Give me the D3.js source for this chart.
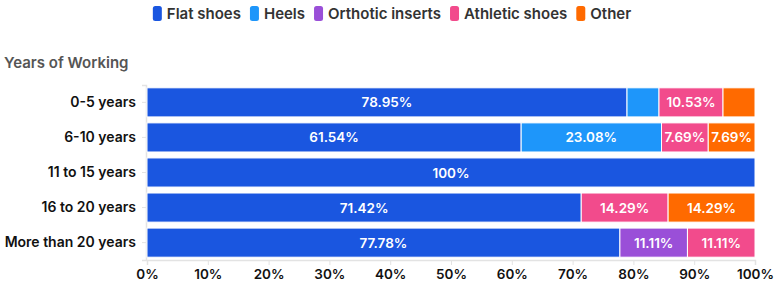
<!DOCTYPE html>
<html>
<head>
<meta charset="utf-8">
<script src="https://cdn.jsdelivr.net/npm/d3@7"></script>
<style>
  body { margin: 0; background: #fff; }
  text { font-family: Inter, "Open Sans", sans-serif; }
</style>
</head>
<body>
<svg id="chart" width="776" height="286"></svg>
<script>
const categories = ["0-5 years", "6-10 years", "11 to 15 years", "16 to 20 years", "More than 20 years"];
const seriesNames = ["Flat shoes", "Heels", "Orthotic inserts", "Athletic shoes", "Other"];
const colors = ["#1a56e0", "#1e96fa", "#9a4fd8", "#f24b8c", "#ff6a00"];
const flatShoes = [78.95, 61.54, 100, 71.42, 77.78];
const heels = [5.26, 23.08, 0, 0, 0];
const orthotic = [0, 0, 0, 0, 11.11];
const athletic = [10.53, 7.69, 0, 14.29, 11.11];
const other = [5.26, 7.69, 0, 14.29, 0];
const xTicks = [0, 10, 20, 30, 40, 50, 60, 70, 80, 90, 100];

const svg = d3.select("#chart");
const margin = {left: 147, right: 21, top: 85, bottom: 26};
const width = 776, height = 286;

const rows = categories.map((c, i) => {
  const r = {cat: c};
  [flatShoes, heels, orthotic, athletic, other].forEach((arr, k) => r[seriesNames[k]] = arr[i]);
  return r;
});
const stacked = d3.stack().keys(seriesNames)(rows);

const x = d3.scaleLinear().domain([0, 100]).range([margin.left, width - margin.right]);
const y = d3.scaleBand().domain(categories).range([margin.top, height - margin.bottom])
  .paddingInner(0.17).paddingOuter(0.08);
const color = d3.scaleOrdinal().domain(seriesNames).range(colors);

// x axis
const xAxis = svg.append("g")
  .attr("transform", `translate(0,${height - margin.bottom})`)
  .call(d3.axisBottom(x).tickValues(xTicks).tickFormat(d => d + "%").tickSize(5).tickPadding(4));
xAxis.select(".domain").attr("stroke", "#e3e3e3").attr("stroke-width", 1.5);
xAxis.selectAll(".tick line").attr("stroke", "#e3e3e3");
xAxis.selectAll("text").attr("font-size", 13.5).attr("font-weight", 600).attr("fill", "#111");

// y axis
const yAxis = svg.append("g")
  .attr("transform", `translate(${margin.left - 1},0)`)
  .call(d3.axisLeft(y).tickSize(4).tickPadding(6));
yAxis.select(".domain").attr("stroke", "#e3e3e3").attr("stroke-width", 1.5);
yAxis.selectAll(".tick line").attr("stroke", "#e3e3e3");
yAxis.selectAll("text").attr("font-size", 14).attr("font-weight", 600).attr("fill", "#111");

// bars
const groups = svg.append("g").selectAll("g").data(stacked).join("g")
  .attr("fill", d => color(d.key));
groups.selectAll("rect").data(d => d.map(v => ({v, key: d.key}))).join("rect")
  .filter(d => d.v[1] - d.v[0] > 0)
  .attr("x", d => x(d.v[0]))
  .attr("y", d => y(d.v.data.cat))
  .attr("width", d => x(d.v[1]) - x(d.v[0]))
  .attr("height", y.bandwidth())
  .attr("stroke", "#fff")
  .attr("stroke-width", 1);

// value labels
groups.selectAll("text").data(d => d.map(v => ({v, key: d.key}))).join("text")
  .filter(d => (d.v[1] - d.v[0]) > 6)
  .attr("x", d => (x(d.v[0]) + x(d.v[1])) / 2)
  .attr("y", d => y(d.v.data.cat) + y.bandwidth() / 2)
  .attr("text-anchor", "middle")
  .attr("dominant-baseline", "central")
  .attr("font-size", 13.5)
  .attr("font-weight", 600)
  .attr("fill", "#fff")
  .text(d => {
    const val = d.v[1] - d.v[0];
    return (val === 100 ? "100" : val.toFixed(2)) + "%";
  });

// axis title
svg.append("text")
  .attr("x", 4).attr("y", 68)
  .attr("font-size", 15).attr("font-weight", 600).attr("fill", "#555")
  .text("Years of Working");

// legend
const legend = svg.append("g");
let lx = 0;
seriesNames.forEach((name, i) => {
  const g = legend.append("g").attr("transform", `translate(${lx},0)`);
  g.append("rect").attr("x", 0).attr("y", 6).attr("width", 9).attr("height", 15).attr("rx", 2.5)
    .attr("fill", colors[i]);
  const t = g.append("text").attr("x", 14).attr("y", 19)
    .attr("font-size", 15).attr("font-weight", 600).attr("fill", "#333").text(name);
  lx += 14 + t.node().getComputedTextLength() + 9;
});
const lw = lx - 9;
legend.attr("transform", `translate(${(width - lw) / 2 + 4},0)`);
</script>
</body>
</html>
